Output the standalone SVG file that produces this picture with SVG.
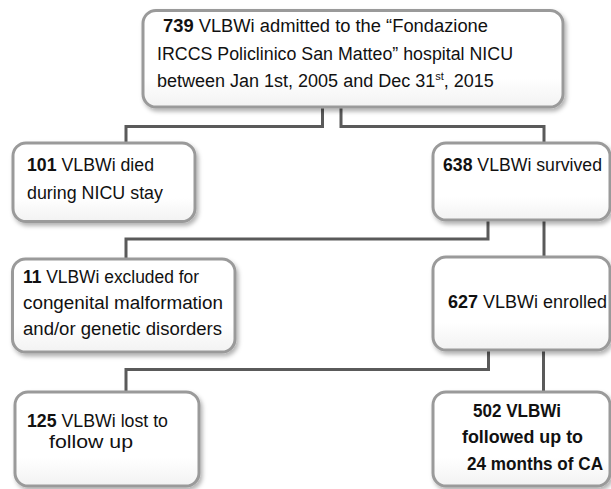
<svg xmlns="http://www.w3.org/2000/svg" width="611" height="489" viewBox="0 0 611 489">
<defs>
<linearGradient id="bg" x1="0" y1="0" x2="0" y2="1">
<stop offset="0" stop-color="#ffffff"/>
<stop offset="0.7" stop-color="#ffffff"/>
<stop offset="1" stop-color="#f2f2f2"/>
</linearGradient>
<filter id="sh" x="-10%" y="-10%" width="125%" height="130%">
<feDropShadow dx="2" dy="3" stdDeviation="2" flood-color="#000" flood-opacity="0.3"/>
</filter>
</defs>
<style>
.box{fill:url(#bg);stroke:#9a9a9a;stroke-width:3;filter:url(#sh)}
.t{font-family:"Liberation Sans",Arial,sans-serif;font-size:18px;fill:#111}
.b{font-weight:bold}
.c{fill:none;stroke:#5a5a5a;stroke-width:3}
</style>
<rect width="611" height="489" fill="#ffffff"/>
<g id="connectors">
<path class="c" d="M322.5,107 V126.5 H126 V143"/>
<path class="c" d="M341,107 V126.5 H544 V143"/>
<path class="c" d="M488,220 V239 H126 V259"/>
<path class="c" d="M544,220 V257"/>
<path class="c" d="M488.5,350 V369.5 H126 V392"/>
<path class="c" d="M543.5,350 V392"/>
</g>
<g id="n739">
<rect class="box" x="143" y="10.5" width="420" height="96.5" rx="13"/>
<text class="t" x="163" y="32" textLength="325" lengthAdjust="spacingAndGlyphs"><tspan class="b">739</tspan> VLBWi admitted to the “Fondazione</text>
<text class="t" x="157" y="59.5" textLength="356" lengthAdjust="spacingAndGlyphs">IRCCS Policlinico San Matteo” hospital NICU</text>
<text class="t" x="157" y="87">between Jan 1st, 2005 and Dec 31<tspan font-size="11" dy="-7">st</tspan><tspan dy="7">, 2015</tspan></text>
</g>
<g id="n101">
<rect class="box" x="13" y="143" width="182" height="78.5" rx="13"/>
<text class="t" x="27" y="171" textLength="127" lengthAdjust="spacingAndGlyphs"><tspan class="b">101</tspan> VLBWi died</text>
<text class="t" x="27" y="199" textLength="136" lengthAdjust="spacingAndGlyphs">during NICU stay</text>
</g>
<g id="n638">
<rect class="box" x="433" y="143" width="177" height="77" rx="13"/>
<text class="t" x="443" y="171" textLength="159" lengthAdjust="spacingAndGlyphs"><tspan class="b">638</tspan> VLBWi survived</text>
</g>
<g id="n11">
<rect class="box" x="12.5" y="259" width="222.5" height="93" rx="13"/>
<text class="t" x="23" y="283" textLength="176" lengthAdjust="spacingAndGlyphs"><tspan class="b">11</tspan> VLBWi excluded for</text>
<text class="t" x="23" y="309" textLength="200" lengthAdjust="spacingAndGlyphs">congenital malformation</text>
<text class="t" x="23" y="335" textLength="199" lengthAdjust="spacingAndGlyphs">and/or genetic disorders</text>
</g>
<g id="n627">
<rect class="box" x="433" y="257" width="177" height="93" rx="13"/>
<text class="t" x="448" y="308" textLength="159" lengthAdjust="spacingAndGlyphs"><tspan class="b">627</tspan> VLBWi enrolled</text>
</g>
<g id="n125">
<rect class="box" x="15" y="392" width="184" height="94" rx="13"/>
<text class="t" x="27" y="427" textLength="141" lengthAdjust="spacingAndGlyphs"><tspan class="b">125</tspan> VLBWi lost to</text>
<text class="t" x="49" y="448" font-size="19" textLength="84" lengthAdjust="spacingAndGlyphs">follow up</text>
</g>
<g id="n502">
<rect class="box" x="433" y="392" width="177" height="94" rx="13"/>
<text class="t b" x="473" y="417" textLength="88" lengthAdjust="spacingAndGlyphs">502 VLBWi</text>
<text class="t b" x="462" y="443" textLength="121" lengthAdjust="spacingAndGlyphs">followed up to</text>
<text class="t b" x="467" y="470" textLength="136" lengthAdjust="spacingAndGlyphs">24 months of CA</text>
</g>
</svg>
